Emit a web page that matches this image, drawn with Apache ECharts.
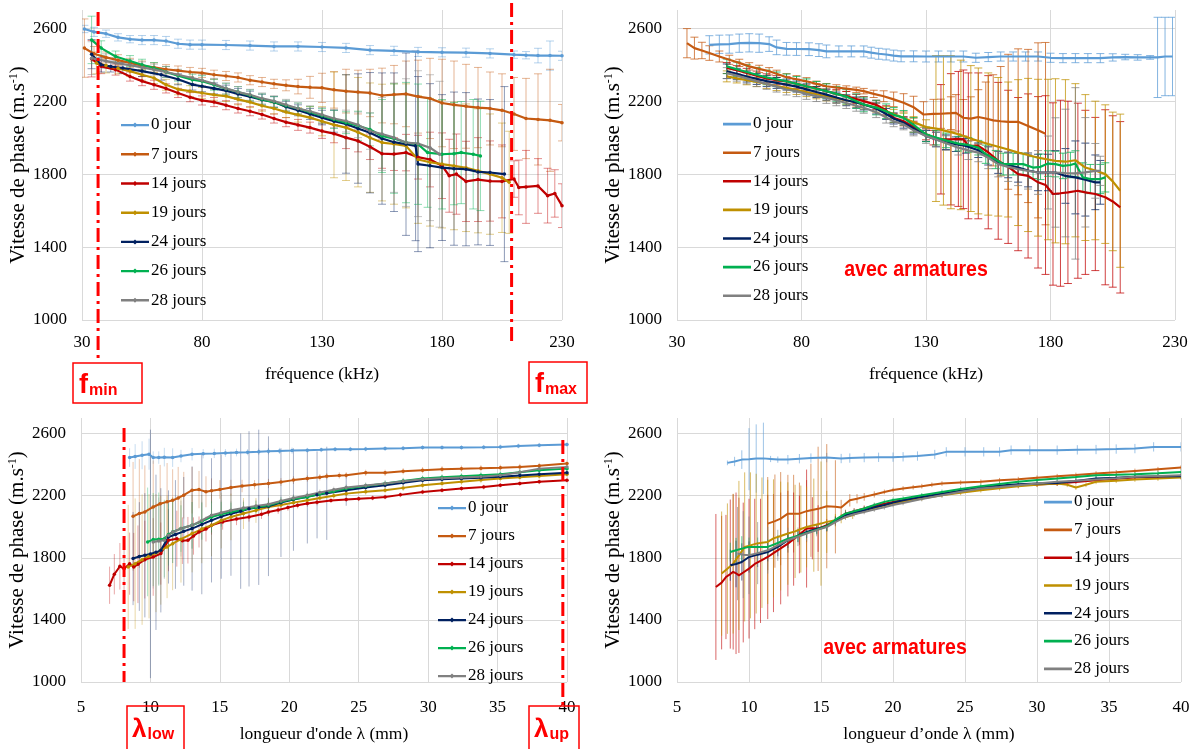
<!DOCTYPE html>
<html><head><meta charset="utf-8">
<script src="https://cdn.jsdelivr.net/npm/echarts@6/dist/echarts.min.js"></script>
<style>html,body{margin:0;padding:0;background:#fff}#c{width:1196px;height:749px}</style>
</head><body><div id="c"></div>
<script>
// ---------- labels / ticks ----------
const seriesNames = ['0 jour','7 jours','14 jours','19 jours','24 jours','26 jours','28 jours'];
const seriesColors = ['#5B9BD5','#C55A11','#C00000','#BF9000','#002060','#00B050','#808080'];
const yTicks = [1000,1400,1800,2200,2600];
const yMax = 2700;
const freqTicks = [30,80,130,180,230];
const lambdaTicks = [5,10,15,20,25,30,35,40];
const yTitle = 'Vitesse de phase (m.s{sup|-1})';
const xTitles = ['fréquence (kHz)','fréquence (kHz)',"longueur d'onde λ (mm)",'longueur d’onde λ (mm)'];
const noteText = 'avec armatures';
const fMin = 36.7, fMax = 209, lambdaLow = 8.1, lambdaUp = 39.7;

// ---------- panel 1 : top-left (fréquence) ----------
const tl_x0=[31,35,40,45,50,55,60,65,70,75,80,90,100,110,120,130,140,150,160,170,180,190,200,210,215,220,225,230];
const tl_y0=[2596,2580,2570,2550,2540,2535,2535,2530,2515,2510,2510,2508,2505,2500,2500,2497,2492,2480,2476,2470,2468,2466,2462,2455,2452,2450,2450,2449];
const tl_e0=[20,25,20,20,20,25,25,25,25,25,25,25,25,25,25,25,25,25,25,25,25,25,25,20,20,40,80,25];
const tl_x1=[31,35,40,45,50,55,60,65,70,75,80,85,90,95,100,105,110,115,120,125,130,135,140,145,150,155,160,165,170,175,180,185,190,195,200,205,210,215,220,225,230];
const tl_y1=[2491,2460,2440,2425,2410,2395,2385,2375,2368,2360,2355,2345,2338,2330,2315,2305,2295,2287,2280,2276,2273,2262,2255,2250,2245,2231,2236,2240,2225,2215,2190,2180,2172,2165,2160,2150,2130,2105,2100,2095,2082];
const tl_e1=[160,40,30,30,25,25,25,25,25,25,25,25,25,25,25,25,25,30,40,60,80,100,120,120,130,150,160,180,200,220,240,240,230,220,200,200,200,220,250,280,100];
const tl_x2=[34,38,44,50,55,60,65,70,75,80,85,90,95,100,105,110,115,120,125,130,135,140,145,150,155,160,165,170,175,180,183,186,190,195,200,205,210,212,215,220,224,227,230];
const tl_y2=[2433,2391,2373,2335,2310,2290,2270,2245,2222,2204,2195,2178,2160,2145,2127,2105,2085,2070,2055,2036,2022,2000,1982,1950,1912,1910,1918,1893,1880,1846,1791,1800,1760,1770,1762,1760,1773,1727,1730,1735,1682,1694,1627];
const tl_e2=[100,40,30,25,25,25,25,25,25,25,25,25,25,25,25,25,25,30,30,40,50,60,60,70,80,90,100,120,150,180,200,220,220,230,220,200,100,150,200,150,150,130,120];
const tl_x3=[36,40,45,50,55,60,65,70,75,80,85,90,95,100,105,110,115,120,125,130,135,140,145,150,155,160,165,170,175,180,185,190,195,200,205,208];
const tl_y3=[2410,2395,2380,2365,2345,2327,2290,2265,2255,2245,2235,2228,2210,2195,2175,2160,2140,2125,2110,2090,2070,2055,2030,2000,1973,1965,1955,1880,1865,1855,1845,1835,1818,1800,1780,1755];
const tl_e3=[60,40,30,30,30,30,30,30,30,30,30,30,30,30,30,30,30,40,60,80,290,290,300,300,320,330,340,350,350,350,350,350,340,330,300,280];
const tl_x4=[34,38,42,47,55,63,70,76,80,85,90,95,100,105,110,115,120,125,130,135,140,145,150,155,160,165,169,170,175,180,185,190,195,200,206];
const tl_y4=[2458,2400,2390,2382,2365,2345,2320,2291,2282,2270,2258,2240,2225,2208,2195,2170,2150,2130,2110,2090,2075,2050,2027,1995,1975,1964,1955,1855,1846,1836,1830,1827,1812,1809,1800];
const tl_e4=[80,40,30,30,30,30,30,30,30,30,30,30,30,30,30,30,30,30,40,60,270,300,330,360,380,500,520,480,450,400,420,420,400,400,480];
const tl_x5=[34,38,44,50,55,60,65,70,76,80,85,90,95,100,105,110,115,120,125,130,135,140,145,150,155,160,165,170,174,180,185,188,193,196];
const tl_y5=[2536,2491,2445,2420,2400,2382,2360,2340,2318,2310,2290,2268,2250,2232,2210,2195,2175,2160,2140,2120,2100,2082,2065,2045,2009,1995,1973,1964,1918,1909,1912,1918,1909,1900];
const tl_e5=[130,40,30,30,30,30,30,30,30,30,30,30,30,30,30,30,30,30,30,40,50,60,80,90,200,300,330,330,300,300,280,280,300,300];
const tl_x6=[34,40,44,50,55,60,65,70,76,80,85,90,95,100,105,110,115,120,125,130,135,140,145,150,155,160,165,170,175,179];
const tl_y6=[2436,2420,2409,2398,2385,2373,2360,2345,2327,2315,2295,2270,2250,2235,2215,2200,2180,2160,2145,2125,2105,2091,2070,2036,2020,2000,1973,1967,1945,1909];
const tl_e6=[90,40,30,30,30,30,30,30,30,30,30,30,30,30,30,30,30,30,30,40,50,60,70,100,200,300,350,400,400,400];

// ---------- panel 2 : top-right (fréquence, avec armatures) ----------
const tr_x0=[43,47,51,55,59,63,67,70,74,78,83,87,90,95,100,105,108,111,114,117,120,125,130,135,140,145,150,155,160,165,170,175,180,185,190,195,200,205,210,215,220,223,226,229];
const tr_y0=[2509,2512,2513,2518,2520,2518,2513,2495,2487,2486,2485,2480,2473,2473,2473,2473,2466,2460,2456,2450,2446,2446,2445,2445,2445,2445,2438,2442,2445,2445,2445,2445,2438,2436,2436,2436,2436,2440,2442,2440,2440,2440,2445,2445];
const tr_e0=[50,50,50,50,50,50,40,40,35,35,35,35,35,30,30,30,30,30,30,30,30,30,30,30,30,30,25,25,25,25,25,25,25,25,25,25,25,20,15,15,10,220,215,215];
const tr_x1=[34,37,40,43,47,51,55,59,63,67,70,74,78,82,86,90,94,98,102,105,109,113,117,121,125,129,133,136,140,142,145,148,151,154,157,160,163,167,171,175,178];
const tr_y1=[2518,2491,2478,2464,2445,2427,2410,2391,2377,2364,2350,2331,2320,2309,2295,2282,2275,2269,2262,2255,2240,2227,2210,2191,2167,2127,2130,2131,2134,2136,2109,2104,2113,2105,2095,2090,2087,2087,2064,2040,2022];
const tr_e1=[80,60,45,40,30,25,20,20,20,20,20,20,20,20,15,15,15,15,15,15,20,30,40,50,60,70,80,80,90,100,100,120,150,200,250,300,370,400,420,480,500];
const tr_x2=[50,54,58,62,66,70,74,78,82,86,90,94,98,102,105,110,114,117,121,125,130,133,136,140,143,145,147,151,155,159,163,167,171,175,178,181,184,187,191,194,198,202,205,208];
const tr_y2=[2382,2370,2355,2340,2325,2315,2309,2295,2282,2270,2255,2240,2228,2212,2200,2180,2150,2109,2090,2060,2018,2000,1991,1991,1993,1991,1955,1955,1920,1873,1840,1800,1790,1755,1740,1691,1695,1700,1709,1700,1691,1673,1650,1618];
const tr_e2=[30,25,25,25,25,25,25,25,25,25,25,25,25,25,25,25,25,25,25,30,30,40,300,360,370,380,400,400,420,430,420,420,450,470,490,500,510,500,480,450,420,480,470,470];
const tr_x3=[50,54,58,62,66,70,74,78,82,86,90,94,98,102,105,110,114,117,121,125,130,134,137,140,144,148,151,155,159,163,167,171,175,179,182,186,190,194,198,202,205,208];
const tr_y3=[2336,2325,2315,2305,2295,2283,2273,2262,2250,2238,2227,2215,2205,2193,2182,2165,2145,2130,2109,2085,2058,2050,2040,2030,2015,1995,1982,1965,1950,1935,1918,1905,1890,1880,1873,1868,1876,1836,1820,1800,1760,1709];
const tr_e3=[30,25,25,25,25,25,25,25,25,25,25,25,25,25,25,25,25,25,25,30,40,400,410,420,410,400,400,390,380,370,400,420,430,440,450,450,420,400,380,380,380,420];
const tr_x4=[50,54,58,62,66,70,74,78,82,86,90,94,98,102,105,110,114,117,121,125,130,134,138,142,146,151,155,159,163,167,171,175,179,182,186,190,194,198,200];
const tr_y4=[2364,2350,2335,2322,2310,2300,2291,2280,2265,2250,2236,2220,2205,2193,2182,2160,2130,2105,2082,2050,2009,1990,1975,1964,1955,1931,1900,1864,1850,1836,1820,1809,1809,1809,1790,1782,1770,1755,1755];
const tr_e4=[40,30,30,30,30,30,30,30,30,30,30,30,30,30,30,30,30,30,30,30,30,40,40,40,40,40,50,60,70,80,90,100,100,120,150,200,200,150,120];
const tr_x5=[50,54,58,62,66,70,74,78,82,86,90,94,98,102,105,110,114,117,121,125,130,134,138,143,147,151,154,158,161,165,169,173,176,179,182,185,188,190,193,196,200,202];
const tr_y5=[2391,2375,2360,2345,2330,2320,2309,2295,2282,2268,2255,2240,2225,2200,2182,2165,2145,2125,2109,2070,2018,2000,1985,1967,1960,1945,1909,1880,1855,1855,1855,1836,1840,1858,1855,1845,1850,1858,1782,1773,1773,1782];
const tr_e5=[40,40,40,40,40,40,40,40,40,40,40,40,40,40,40,40,40,40,40,40,40,40,40,40,40,40,50,50,60,60,60,60,70,70,70,70,70,70,80,80,80,80];
const tr_x6=[50,54,58,62,66,70,74,78,82,86,90,94,98,102,105,110,114,117,121,125,130,134,138,143,147,151,155,159,163,167,171,175,179,182,186,190,194,198,200];
const tr_y6=[2354,2340,2325,2310,2295,2280,2264,2255,2240,2228,2218,2205,2190,2175,2164,2140,2110,2090,2073,2040,2009,1990,1970,1945,1930,1918,1890,1855,1840,1827,1818,1809,1809,1809,1806,1804,1810,1818,1818];
const tr_e6=[30,30,30,30,30,30,30,30,30,30,30,30,30,30,30,30,30,30,30,30,40,40,40,40,50,50,60,70,80,90,100,120,200,300,350,470,300,150,80];

// ---------- panel 3 : bottom-left (longueur d'onde) ----------
const bl_x0=[8.5,8.9,9.4,9.9,10.2,10.6,11,11.6,12.2,13,13.8,14.6,15.4,16.2,17,17.8,18.5,19.3,20.2,21.3,22.3,23.3,24.4,25.5,26.9,28.2,29.6,31,32.4,34,35.2,36.5,38,40];
const bl_y0=[2445,2452,2460,2467,2445,2445,2448,2445,2455,2467,2470,2472,2475,2478,2480,2483,2486,2488,2490,2493,2495,2498,2499,2500,2503,2505,2510,2510,2510,2512,2514,2520,2525,2529];
const bl_e0=[60,80,90,100,40,40,60,60,40,40,30,30,25,25,20,20,20,20,20,15,15,15,15,15,15,15,15,15,15,15,15,15,15,15];
const bl_x1=[8.75,9.2,9.6,10.2,10.7,11.2,11.6,12,12.4,13,13.5,14,14.4,15,15.8,16.6,17.5,18.5,19.4,20.3,21.3,22.2,22.7,23.6,24.1,25.5,26.9,28.2,29.6,31,32.4,33.8,35.2,36.6,38,40];
const bl_y1=[2067,2085,2095,2127,2148,2160,2170,2185,2203,2235,2239,2225,2231,2240,2252,2262,2270,2278,2288,2300,2310,2318,2325,2330,2331,2347,2347,2357,2364,2370,2374,2376,2379,2385,2392,2407];
const bl_e1=[350,350,300,300,250,250,200,200,150,150,120,100,80,60,50,40,30,30,25,25,20,20,20,20,20,20,20,20,20,20,20,20,20,20,20,20];
const bl_x2=[7.06,7.4,7.8,8.1,8.5,8.8,9.1,9.6,10.2,10.75,11.3,11.9,12.3,12.7,13.1,13.5,14,14.4,15.2,16.2,17.1,18,18.5,19.2,19.9,20.6,21.3,22,23,24.1,25,26,26.9,28,29.6,31,32.4,34,35.2,36.6,38,40];
const bl_y2=[1623,1694,1745,1730,1762,1740,1758,1788,1805,1827,1913,1923,1910,1913,1940,1966,1985,2009,2031,2050,2063,2080,2095,2108,2123,2138,2149,2158,2168,2175,2180,2185,2192,2205,2224,2235,2246,2255,2267,2278,2289,2299];
const bl_e2=[120,130,150,200,200,220,250,250,250,200,200,180,150,150,120,100,80,60,50,40,30,30,25,25,20,20,20,20,15,15,15,15,15,15,15,15,15,15,15,15,15,15];
const bl_x3=[8.4,8.9,9.4,9.9,10.4,10.75,11.2,11.6,12.2,13,13.7,14.4,15.1,15.8,16.7,17.6,18.5,19.4,20.3,21.3,22.2,23.2,24.1,25.5,26.9,28.2,29.6,31,32.4,33.8,35.2,36.6,38,40];
const bl_y3=[1741,1762,1788,1810,1830,1848,1870,1891,1920,1956,1985,2009,2040,2063,2085,2105,2127,2140,2155,2170,2185,2200,2213,2225,2235,2250,2267,2278,2289,2300,2310,2318,2327,2338];
const bl_e3=[400,420,420,400,380,350,330,300,280,250,220,200,180,150,100,80,60,40,30,25,25,20,20,20,20,20,20,20,20,20,20,20,20,20];
const bl_x4=[8.75,9.2,9.6,10,10.4,10.75,11.3,11.8,12.4,13,13.7,14.4,15.1,15.8,16.5,17.1,17.8,18.5,19.4,20.3,21.3,22,22.7,24.1,25.5,26.9,28.2,29.6,31,32.4,33.8,35.2,36.6,38,40];
const bl_y4=[1795,1808,1816,1825,1835,1848,1934,1950,1970,1988,2015,2041,2065,2084,2100,2115,2125,2132,2155,2175,2192,2205,2215,2235,2252,2267,2283,2299,2305,2310,2315,2321,2330,2338,2347];
const bl_e4=[300,350,400,800,500,400,300,350,350,400,450,400,400,400,500,500,500,450,350,330,300,280,300,100,20,20,20,20,20,20,20,20,20,20,20];
const bl_x5=[9.8,10.2,10.6,11,11.3,11.6,12.2,13,13.7,14.4,15.1,15.8,16.7,17.6,18.5,19.4,20.3,21.3,22.2,23.2,24.1,25.5,26.9,28.2,29.6,31,32.4,33.8,35.2,36.6,38,40];
const bl_y5=[1902,1917,1920,1923,1950,1966,1988,2009,2035,2063,2080,2095,2110,2125,2138,2160,2178,2192,2210,2228,2246,2262,2278,2295,2310,2318,2325,2332,2338,2350,2364,2374];
const bl_e5=[350,300,300,250,200,200,150,150,120,100,80,60,50,40,30,30,25,25,20,20,20,20,20,20,20,20,20,20,20,20,20,20];
const bl_x6=[10.2,10.6,11,11.3,11.6,12.2,13,13.7,14.4,15.1,15.8,16.7,17.6,18.5,19.4,20.3,21.3,22.2,23.2,24.1,25.5,26.9,28.2,29.6,31,32.4,33.8,35.2,36.6,38,40];
const bl_y6=[1902,1908,1913,1945,1966,1988,2009,2040,2074,2090,2106,2120,2133,2145,2165,2185,2203,2220,2238,2252,2265,2278,2292,2306,2312,2317,2322,2331,2350,2374,2385];
const bl_e6=[300,280,250,220,200,180,150,120,100,80,60,50,40,30,30,25,25,20,20,20,20,20,20,20,20,20,20,20,20,20,20];

// ---------- panel 4 : bottom-right (longueur d'onde, avec armatures) ----------
const br_x0=[8.5,9,9.5,10,10.5,11,11.5,12,12.7,13.5,14.3,15.4,16.4,17,18,19,20,20.7,21.7,22.9,23.7,25,26.3,27.4,28.2,29.5,31.4,32.8,34.1,35.5,36.8,38.1,40];
const br_y0=[2411,2420,2432,2435,2439,2440,2436,2432,2432,2438,2442,2445,2439,2442,2445,2447,2448,2450,2455,2465,2482,2482,2482,2482,2493,2493,2493,2495,2497,2500,2503,2514,2514];
const br_e0=[15,30,60,200,220,230,20,20,30,30,30,30,30,30,30,30,30,30,30,30,30,30,30,30,30,30,30,30,30,30,30,30,30];
const br_x1=[11.3,11.8,12.2,12.7,13.1,13.5,14,14.3,14.8,15.4,16,16.4,17,17.5,18,18.7,19.4,20,20.7,21.4,22,22.7,23.4,24.7,26.1,27.4,28.7,30,31.4,32.7,34.1,35.5,36.8,38.4,40];
const br_y1=[2020,2036,2052,2084,2084,2084,2100,2106,2115,2132,2128,2123,2170,2180,2192,2208,2224,2236,2246,2254,2261,2270,2278,2284,2289,2299,2306,2315,2325,2333,2342,2350,2359,2370,2381];
const br_e1=[300,300,300,250,250,200,200,300,400,400,300,50,40,30,25,20,15,15,15,15,15,15,15,15,15,15,15,15,15,15,15,15,15,15,15];
const br_x2=[7.7,8.1,8.4,8.7,8.9,9.1,9.3,9.6,10,10.4,10.8,11.3,11.7,12.2,12.7,13.1,13.5,14,14.4,14.8,15.4,16,16.7,17.3,18,18.7,19.4,20,20.7,22,23.4,24.7,26.1,27.4,28.7,30,31.4,32.7,34.1,35.5,36.8,38.4,40];
const br_y2=[1612,1640,1676,1695,1709,1700,1687,1705,1730,1760,1780,1805,1830,1860,1891,1920,1950,1988,1990,1988,2009,2040,2084,2100,2117,2135,2148,2160,2170,2192,2213,2230,2246,2258,2267,2272,2278,2288,2299,2308,2317,2321,2325];
const br_e2=[470,430,400,480,500,520,500,450,450,420,400,400,380,360,340,300,250,380,200,150,40,30,25,20,20,15,15,15,15,15,15,15,15,15,15,15,15,15,15,15,15,15,15];
const br_x3=[8.1,8.5,8.9,9.3,9.7,10.1,10.5,10.9,11.3,11.7,12.2,12.7,13.2,13.6,14,14.5,15,15.4,16,16.4,17.2,18,18.7,19.4,20,20.7,22,23.4,24.7,26.1,27.4,28.7,30,31.4,32.1,32.7,33.4,34.1,35.5,36.8,38.4,40];
const br_y3=[1698,1730,1762,1815,1870,1880,1891,1897,1902,1925,1940,1956,1970,1985,1998,2010,2020,2031,2042,2052,2075,2106,2120,2138,2150,2160,2182,2203,2218,2235,2248,2261,2270,2278,2270,2252,2270,2289,2296,2304,2310,2317];
const br_e3=[400,420,450,480,480,470,450,420,400,380,350,330,300,280,260,300,400,200,40,30,25,20,15,15,15,15,15,15,15,15,15,15,15,15,15,15,15,15,15,15,15,15];
const br_x4=[8.7,9.1,9.5,10,10.6,11.3,12,12.7,13.4,14,14.7,15.4,16,16.7,17.3,18,18.7,19.4,20,20.7,22,23.4,24.7,26.1,27.4,28.7,30,31.4,32.7,34.1,35.5,36.8,38.4,40];
const br_y4=[1752,1760,1773,1805,1820,1837,1870,1913,1940,1966,1985,2003,2040,2074,2090,2106,2125,2140,2155,2170,2192,2213,2232,2252,2265,2274,2278,2282,2295,2310,2315,2321,2323,2325];
const br_e4=[100,150,120,100,80,60,60,50,40,40,30,30,20,20,15,15,15,15,15,15,15,15,15,15,15,15,15,15,15,15,15,15,15,15];
const br_x5=[8.7,9.1,9.5,10,10.6,11.3,12,12.7,13.4,14,14.7,15.4,16,16.7,17.3,18,18.7,19.4,20,20.7,22,23.4,24.7,26.1,27.4,28.7,30,31.4,32.7,34.1,35.5,36.8,38.4,40];
const br_y5=[1837,1848,1859,1870,1870,1870,1895,1923,1942,1960,1980,2003,2045,2084,2100,2117,2140,2160,2172,2181,2202,2224,2243,2261,2275,2289,2300,2310,2320,2331,2334,2338,2345,2353];
const br_e5=[60,80,80,60,60,50,50,40,40,30,30,30,20,20,15,15,15,15,15,15,15,15,15,15,15,15,15,15,15,15,15,15,15,15];
const br_x6=[9.2,9.6,10,10.6,11.3,12,12.7,13.4,14,14.7,15.4,16,16.7,17.3,18,18.7,19.4,20,20.7,22,23.4,24.7,26.1,27.4,28.7,30,31.4,32.7,34.1,35.5,36.8,38.4,40];
const br_y6=[1827,1820,1816,1830,1848,1880,1913,1935,1956,1978,1998,2030,2063,2080,2095,2110,2125,2140,2153,2178,2203,2225,2246,2256,2267,2278,2289,2296,2304,2312,2321,2326,2331];
const br_e6=[300,280,250,200,150,100,80,60,50,40,30,25,20,15,15,15,15,15,15,15,15,15,15,15,15,15,15,15,15,15,15,15,15];

const panels = [
  {xs:[tl_x0,tl_x1,tl_x2,tl_x3,tl_x4,tl_x5,tl_x6], ys:[tl_y0,tl_y1,tl_y2,tl_y3,tl_y4,tl_y5,tl_y6], es:[tl_e0,tl_e1,tl_e2,tl_e3,tl_e4,tl_e5,tl_e6]},
  {xs:[tr_x0,tr_x1,tr_x2,tr_x3,tr_x4,tr_x5,tr_x6], ys:[tr_y0,tr_y1,tr_y2,tr_y3,tr_y4,tr_y5,tr_y6], es:[tr_e0,tr_e1,tr_e2,tr_e3,tr_e4,tr_e5,tr_e6]},
  {xs:[bl_x0,bl_x1,bl_x2,bl_x3,bl_x4,bl_x5,bl_x6], ys:[bl_y0,bl_y1,bl_y2,bl_y3,bl_y4,bl_y5,bl_y6], es:[bl_e0,bl_e1,bl_e2,bl_e3,bl_e4,bl_e5,bl_e6]},
  {xs:[br_x0,br_x1,br_x2,br_x3,br_x4,br_x5,br_x6], ys:[br_y0,br_y1,br_y2,br_y3,br_y4,br_y5,br_y6], es:[br_e0,br_e1,br_e2,br_e3,br_e4,br_e5,br_e6]}
];

// ---------- styling ----------
const SERIF = '"Liberation Serif", "Times New Roman", serif';
const SANS = '"Liberation Sans", Arial, sans-serif';
const gridPos = [
  {left:82, top:10, width:480, height:310},
  {left:677, top:10, width:498, height:310},
  {left:81, top:418, width:486, height:264},
  {left:677, top:418, width:504, height:264}
];
const panelStyle = [
  {markers:true, cap:4, barOpacity:0.45, lw:2.2},
  {markers:false, cap:4, barOpacity:0.75, lw:2.2},
  {markers:true, cap:0, barOpacity:0.35, lw:2},
  {markers:false, cap:0, barOpacity:0.6, lw:2}
];
const legendPos = [
  {left:116, top:110, gap:9.2},
  {left:718, top:109, gap:8.6},
  {left:433, top:493, gap:8},
  {left:1039, top:487, gap:7.8}
];
const ICON_MARK = 'path://M0,0L0.01,0L0,0.01Z M28,12L27.99,12L28,11.99Z M0,4.9h28v2.4h-28Z M14,3.6L16.6,6.1L14,8.6L11.4,6.1Z';
const ICON_LINE = 'path://M0,0L0.01,0L0,0.01Z M28,12L27.99,12L28,11.99Z M0,4.8h28v2.6h-28Z';

function errRender(color, cap, opacity) {
  return function (params, api) {
    const x = api.value(0), y = api.value(1), e = api.value(2);
    const p1 = api.coord([x, y + e]);
    const p2 = api.coord([x, y - e]);
    const st = {stroke: color, lineWidth: 1, opacity: opacity};
    const ch = [{type:'line', shape:{x1:p1[0], y1:p1[1], x2:p2[0], y2:p2[1]}, style: st}];
    if (cap) {
      ch.push({type:'line', shape:{x1:p1[0]-cap, y1:p1[1], x2:p1[0]+cap, y2:p1[1]}, style: st});
      ch.push({type:'line', shape:{x1:p2[0]-cap, y1:p2[1], x2:p2[0]+cap, y2:p2[1]}, style: st});
    }
    return {type:'group', children: ch};
  };
}

const grids = [], xAxes = [], yAxes = [], series = [], legends = [];
panels.forEach((p, pi) => {
  grids.push(Object.assign({containLabel:false}, gridPos[pi]));
  const ticks = pi < 2 ? freqTicks : lambdaTicks;
  xAxes.push({
    type:'value', gridIndex:pi, min:ticks[0], max:ticks[ticks.length-1], interval:ticks[1]-ticks[0],
    axisLine:{show:false}, axisTick:{show:false},
    splitLine:{show:true, lineStyle:{color:'#D9D9D9', width:1}},
    axisLabel:{color:'#000', fontFamily:SERIF, fontSize:17, margin: pi < 2 ? 14 : 17},
    name:xTitles[pi], nameLocation:'middle', nameGap: pi < 2 ? 45 : 43,
    nameTextStyle:{color:'#000', fontFamily:SERIF, fontSize:17.5}
  });
  yAxes.push({
    type:'value', gridIndex:pi, min:yTicks[0], max:yMax, interval:yTicks[1]-yTicks[0],
    axisLine:{show:false}, axisTick:{show:false},
    splitLine:{show:true, lineStyle:{color:['#D9D9D9','#D9D9D9','#D9D9D9','#D9D9D9','#D9D9D9','rgba(0,0,0,0)'], width:1}},
    axisLabel:{color:'#000', fontFamily:SERIF, fontSize:17, margin:15,
      formatter: v => (yTicks.indexOf(v) >= 0 ? String(v) : '')},
    name:yTitle, nameLocation:'middle', nameRotate:90, nameGap:52,
    nameTextStyle:{color:'#000', fontFamily:SERIF, fontSize:21,
      rich:{sup:{fontSize:12, fontFamily:SERIF, color:'#000', verticalAlign:'top', padding:[0,0,10,0]}}}
  });
  const st = panelStyle[pi];
  const names = [];
  p.xs.forEach((xs, si) => {
    const nm = seriesNames[si] + '\u200b'.repeat(pi);
    names.push(nm);
    const color = seriesColors[si];
    series.push({
      type:'custom', name:'err'+pi+'_'+si, xAxisIndex:pi, yAxisIndex:pi, clip:true, silent:true,
      renderItem: errRender(color, st.cap, st.barOpacity),
      data: xs.map((x, i) => [x, p.ys[si][i], p.es[si][i] || 0]),
      encode:{x:0, y:1}, z:1
    });
    series.push({
      type:'line', name:nm, xAxisIndex:pi, yAxisIndex:pi, color:color,
      data: xs.map((x, i) => [x, p.ys[si][i]]),
      symbol: st.markers ? 'circle' : 'none', symbolSize: 3.5, showSymbol: st.markers,
      lineStyle:{width:st.lw, color:color}, itemStyle:{color:color},
      z:3, clip:true
    });
  });
  legends.push({
    data:names, orient:'vertical', left:legendPos[pi].left, top:legendPos[pi].top,
    icon: st.markers ? ICON_MARK : ICON_LINE,
    itemWidth:28, itemHeight:12, itemGap:legendPos[pi].gap, selectedMode:false,
    textStyle:{color:'#000', fontFamily:SERIF, fontSize:17, lineHeight:20, padding:[0,0,0,-3]}
  });
});

const chart = echarts.init(document.getElementById('c'), null, {renderer:'canvas'});
chart.setOption({
  animation:false, backgroundColor:'#fff',
  grid:grids, xAxis:xAxes, yAxis:yAxes, series:series, legend:legends
});

// ---------- annotations ----------
const RED = '#FF0000';
function xPix(ai, v) { return chart.convertToPixel({xAxisIndex:ai}, v); }
const dash = [14, 5, 3, 5];
const vline = (x, y1, y2) => ({type:'line', shape:{x1:x, y1:y1, x2:x, y2:y2}, style:{stroke:RED, lineWidth:3, lineDash:dash}, z:50});
const box = (x, y, w, h) => ({type:'rect', shape:{x:x, y:y, width:w, height:h}, style:{fill:'none', stroke:RED, lineWidth:1.5}, z:49});
const sym = (x, y, main, sub, mainSize) => ({
  type:'text', x:x, y:y, z:51,
  style:{text:'{a|' + main + '}{b|' + sub + '}', rich:{
    a:{fontSize:mainSize, fontWeight:'bold', fill:RED, fontFamily:SANS, lineHeight:30, verticalAlign:'bottom'},
    b:{fontSize:16, fontWeight:'bold', fill:RED, fontFamily:SANS, lineHeight:30, verticalAlign:'bottom', padding:[0,0,0,1]}
  }}
});
const note = (x, y) => ({type:'text', x:x, y:y, z:51, scaleX:0.89,
  style:{text:noteText, fill:RED, fontSize:22, fontWeight:'bold', fontFamily:SANS, align:'center', verticalAlign:'middle'}});
chart.setOption({graphic:[
  vline(xPix(0, fMin), 12, 358),
  vline(xPix(0, fMax), 3, 345),
  vline(xPix(2, lambdaLow), 428, 682),
  vline(xPix(2, lambdaUp), 440, 706),
  box(73, 363, 69, 40), sym(79, 369, 'f', 'min', 27),
  box(529, 362, 58, 41), sym(535, 368, 'f', 'max', 27),
  box(127, 706, 57, 46), sym(132, 713, 'λ', 'low', 26),
  box(529, 706, 50, 46), sym(534, 713, 'λ', 'up', 26),
  note(916, 270),
  note(895, 648)
]});
</script>
</body></html>
